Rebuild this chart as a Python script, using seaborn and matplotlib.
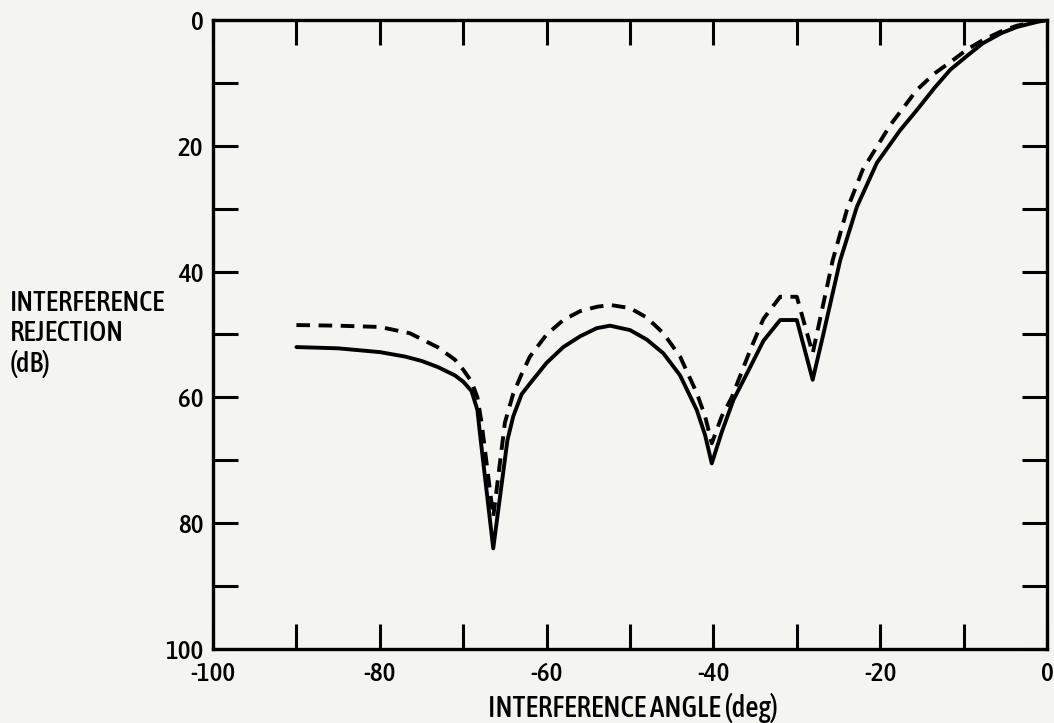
import matplotlib
matplotlib.use("Agg")
import matplotlib.pyplot as plt
from matplotlib import font_manager as fm
import seaborn as sns
import pandas as pd
from matplotlib.ticker import FixedLocator, FixedFormatter

# ---- data ----
solid_angle = [-90, -85, -80, -77, -75, -73, -71, -70, -69, -68.3, -68, -66.4, -64.7, -64,
               -63, -62, -60, -58, -56, -54, -52.4, -50, -48, -46, -44, -42, -41, -40.2,
               -39, -37.6, -35.6, -34, -32, -30, -28.1, -26.9, -24.8, -22.8, -20.4, -17.6,
               -15.6, -13.5, -11.6, -9.5, -7.7, -5.5, -3.6, -1.2, 0]
solid_rej = [52, 52.2, 52.8, 53.5, 54.2, 55.2, 56.5, 57.5, 59, 62, 65.7, 84, 66.8, 63,
             59.5, 57.8, 54.5, 52, 50.3, 49, 48.6, 49.3, 50.8, 53, 56.5, 62, 66, 70.5,
             65.5, 60.4, 55.2, 51, 47.7, 47.7, 57.2, 50.4, 38.2, 29.7, 22.7, 17.5,
             14.3, 10.8, 7.9, 5.6, 3.7, 2.1, 1.1, 0.3, 0]

dashed_angle = [-90, -85, -80, -76.4, -73.1, -71, -70, -69, -68.3, -67.8, -66.4, -65, -64,
                -63, -62, -60, -58, -56, -54, -52.4, -50, -48, -46, -44, -42, -41, -40.2,
                -39, -37.8, -35.6, -34, -32, -30, -28.1, -26.9, -25.7, -24, -22.1, -18.8,
                -15.6, -13.5, -11.6, -9.5, -7.7, -5.5, -3.6, -1.2, 0]
dashed_rej = [48.5, 48.6, 48.8, 49.8, 52, 54, 55.6, 57.5, 60, 64, 79, 64, 59.4,
              56.3, 53.5, 50, 47.7, 46.3, 45.6, 45.3, 45.8, 47.3, 49.8, 53.5, 59.3, 63, 67.3,
              63, 60, 52.5, 47.5, 44, 44, 53, 45.6, 38.2, 30.2, 23.8, 16.7,
              11.1, 8.5, 6.7, 4.6, 3.2, 1.8, 0.9, 0.2, 0]

x_major = [-100, -80, -60, -40, -20, 0]
x_minor = [-90, -70, -50, -30, -10]
x_labels = ["-100", "-80", "-60", "-40", "-20", "0"]
y_major = [0, 20, 40, 60, 80, 100]
y_minor = [10, 30, 50, 70, 90]
y_labels = ["0", "20", "40", "60", "80", "100"]

sns.set_style("ticks")
plt.rcParams["font.family"] = ["DejaVu Sans"]
plt.rcParams["text.color"] = "black"


def pick_condensed():
    """Find an installed condensed/narrow sans font file, if any."""
    best = None
    for f in fm.fontManager.ttflist:
        nm = f.name.lower()
        path = f.fname.lower()
        narrow = ("condensed" in nm or "narrow" in nm or "condensed" in path
                  or "narrow" in path or str(f.stretch) in ("condensed", "semi-condensed"))
        if not narrow or f.style != "normal" or "mono" in nm or "serif" in nm and "sans" not in nm:
            continue
        try:
            w = int(f.weight)
        except (TypeError, ValueError):
            w = {"bold": 700, "normal": 400, "medium": 500}.get(str(f.weight), 400)
        score = abs(w - 500)
        if "extra" in path or "ultra" in path:
            score += 300
        if best is None or score < best[0]:
            best = (score, f.fname)
    return best[1] if best else None


cfont = pick_condensed()


def fp(size):
    if cfont:
        return fm.FontProperties(fname=cfont, size=size)
    return fm.FontProperties(family="DejaVu Sans", size=size * 0.85)


bg = "#f4f4f1"
fig = plt.figure(figsize=(10.54, 7.23), dpi=100, facecolor=bg)
ax = fig.add_axes([0.2021, 0.1024, 0.9934 - 0.2021, 0.9723 - 0.1024])
ax.set_facecolor(bg)

df_s = pd.DataFrame({"angle": solid_angle, "rej": solid_rej})
df_d = pd.DataFrame({"angle": dashed_angle, "rej": dashed_rej})
sns.lineplot(data=df_s, x="angle", y="rej", ax=ax, color="black", lw=2.8, sort=False)
sns.lineplot(data=df_d, x="angle", y="rej", ax=ax, color="black", lw=2.8, sort=False,
             linestyle=(0, (3.5, 2.2)))

ax.set_xlim(-100, 0)
ax.set_ylim(100, 0)
ax.xaxis.set_major_locator(FixedLocator(x_major))
ax.xaxis.set_major_formatter(FixedFormatter(x_labels))
ax.xaxis.set_minor_locator(FixedLocator(x_minor))
ax.yaxis.set_major_locator(FixedLocator(y_major))
ax.yaxis.set_major_formatter(FixedFormatter(y_labels))
ax.yaxis.set_minor_locator(FixedLocator(y_minor))
ax.tick_params(which="both", direction="in", top=True, right=True, length=18, width=2.2,
               color="black", labelcolor="black")
ax.tick_params(axis="x", which="both", pad=9)
ax.tick_params(axis="y", which="both", pad=7)
for lbl in ax.get_xticklabels() + ax.get_yticklabels():
    lbl.set_fontproperties(fp(19.5))
for s in ax.spines.values():
    s.set_linewidth(2.4)
    s.set_edgecolor("black")
ax.set_xlabel("")
ax.set_ylabel("")

fig.text(633 / 1054, 1 - 708 / 723, "INTERFERENCE ANGLE (deg)", ha="center", va="center",
         fontproperties=fp(21), color="black")
fig.text(10 / 1054, 1 - 334 / 723, "INTERFERENCE\nREJECTION\n(dB)", ha="left", va="center",
         fontproperties=fp(20.5), linespacing=1.15, color="black")

fig.savefig("out.png", dpi=100, facecolor=bg)
